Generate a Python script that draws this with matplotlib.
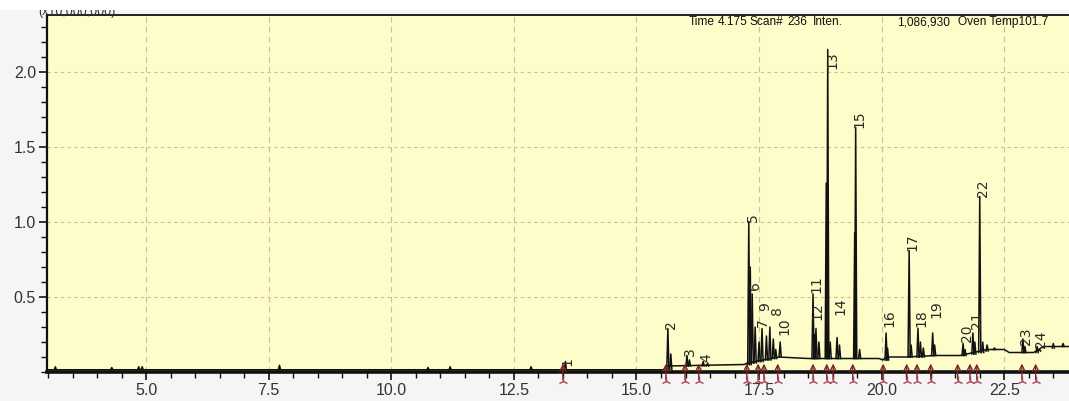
import matplotlib
matplotlib.use("Agg")
import matplotlib.pyplot as plt
from matplotlib.patches import Rectangle
from matplotlib.ticker import MultipleLocator, FixedLocator

# trace baseline, retention time (min) vs intensity (x10,000,000)
base_t = [2.98, 15.55, 15.62, 17.20, 17.26, 17.90, 18.50, 19.55, 19.95, 20.02,
          20.10, 20.50, 21.10, 21.60, 22.15, 22.50, 22.60, 23.10, 23.30, 23.82]
base_y = [0.015, 0.015, 0.040, 0.050, 0.060, 0.100, 0.090, 0.090, 0.090, 0.080,
          0.100, 0.100, 0.110, 0.110, 0.150, 0.150, 0.130, 0.130, 0.170, 0.170]

# labelled peaks
peak_no = [str(i) for i in range(1, 25)]
peak_t = [13.55, 15.64, 16.03, 16.36, 17.29, 17.36, 17.56, 17.72, 17.79, 17.93,
          18.60, 18.66, 18.90, 19.09, 19.47, 20.09, 20.56, 20.74, 21.04, 21.66,
          21.86, 22.00, 22.88, 23.17]
peak_h = [0.07, 0.29, 0.11, 0.07, 1.00, 0.52, 0.29, 0.30, 0.22, 0.20,
          0.52, 0.29, 2.15, 0.23, 1.63, 0.26, 0.81, 0.29, 0.26, 0.19,
          0.26, 1.17, 0.22, 0.17]
peak_base = [0.015, 0.015, 0.04, 0.04, 0.05, 0.06, 0.07, 0.08, 0.09, 0.10,
             0.09, 0.09, 0.09, 0.09, 0.09, 0.08, 0.10, 0.10, 0.11, 0.11,
             0.12, 0.13, 0.13, 0.13]
label_x = [13.60, 15.71, 16.10, 16.43, 17.38, 17.42, 17.58, 17.87, 17.63, 18.02,
           18.67, 18.69, 18.99, 19.16, 19.54, 20.16, 20.63, 20.81, 21.12, 21.73,
           21.95, 22.07, 22.95, 23.24]
label_y = [0.04, 0.29, 0.11, 0.07, 1.00, 0.55, 0.30, 0.38, 0.41, 0.25,
           0.53, 0.35, 2.02, 0.38, 1.63, 0.30, 0.81, 0.30, 0.36, 0.20,
           0.29, 1.17, 0.18, 0.16]

# small unlabelled peaks and shoulders
minor_t = [3.15, 4.30, 4.85, 4.92, 7.72, 10.75, 11.20, 12.85, 15.70, 16.08,
           16.45, 17.32, 17.42, 17.50, 17.65, 17.84, 18.63, 18.72, 18.87, 18.95,
           19.14, 19.45, 19.55, 20.12, 20.60, 20.79, 20.85, 21.08, 21.70, 21.90,
           22.06, 22.15, 22.30, 22.92, 23.22, 23.50, 23.70]
minor_h = [0.035, 0.030, 0.035, 0.035, 0.045, 0.030, 0.035, 0.035, 0.12, 0.08,
           0.06, 0.70, 0.30, 0.20, 0.24, 0.15, 0.25, 0.20, 1.26, 0.20,
           0.18, 0.93, 0.15, 0.16, 0.18, 0.20, 0.16, 0.18, 0.15, 0.20,
           0.20, 0.18, 0.16, 0.17, 0.15, 0.19, 0.19]
minor_base = [0.015, 0.015, 0.015, 0.015, 0.015, 0.015, 0.015, 0.015, 0.015, 0.04,
              0.04, 0.05, 0.06, 0.07, 0.08, 0.09, 0.09, 0.09, 0.09, 0.09,
              0.09, 0.09, 0.09, 0.08, 0.10, 0.10, 0.10, 0.11, 0.11, 0.12,
              0.13, 0.14, 0.15, 0.13, 0.14, 0.16, 0.17]

# integration start markers
marker_t = [13.50, 15.60, 15.99, 16.27, 17.25, 17.48, 17.60, 17.88, 18.60, 18.88,
            19.01, 19.41, 20.03, 20.51, 20.72, 21.00, 21.55, 21.80, 21.94, 22.86,
            23.14]

# status line: (x position, text, alignment)
header = [(16.07, "Time", "left"), (16.66, "4.175", "left"), (17.30, "Scan#", "left"),
          (18.07, "236", "left"), (18.60, "Inten.", "left"),
          (21.39, "1,086,930", "right"), (21.55, "Oven Temp101.7", "left")]

xticks = [5.0, 7.5, 10.0, 12.5, 15.0, 17.5, 20.0, 22.5]
yticks = [0.5, 1.0, 1.5, 2.0]

fig = plt.figure(figsize=(10.69, 4.01), dpi=100, facecolor="#f5f5f5")
ax = fig.add_axes([0.044, 0.0723, 0.956, 0.8903])
ax.set_facecolor("#fefcc8")
ax.set_xlim(2.98, 23.82)
ax.set_ylim(0, 2.38)

trace_kw = dict(color="#111111", lw=1.1, zorder=3)
ax.plot(base_t, base_y, **trace_kw)
w = 0.022
for t, h, b in zip(minor_t + peak_t, minor_h + peak_h, minor_base + peak_base):
    ax.plot([t - w, t, t + w], [b, h, b], **trace_kw)

for n, x, y in zip(peak_no, label_x, label_y):
    ax.text(x, y, n, rotation=90, ha="center", va="bottom",
            fontsize=10, color="#2a2a2a", zorder=4)

for t in marker_t:
    ax.annotate("", xy=(t, 0.075), xytext=(t, -0.07), annotation_clip=False,
                arrowprops=dict(arrowstyle="->,head_length=0.45,head_width=0.22",
                                color="#7b2428", lw=1.0), zorder=5)
ax.plot(marker_t, [-0.06] * len(marker_t), linestyle="none", marker="2",
        markersize=7, mew=1.0, color="#a8464e", clip_on=False, zorder=5)

for x, s, ha in header:
    ax.text(x, 2.333, s, ha=ha, va="center", fontsize=8.6,
            family="Liberation Sans", color="#111111", zorder=4)

# top strip of the screenshot cuts the scale factor label
fig.text(38 / 1069, 1 - 15 / 401, "(x10,000,000)", ha="left", va="baseline",
         fontsize=9, family="Liberation Sans", color="#333333")
fig.add_artist(Rectangle((0, 1 - 10 / 401), 1, 10 / 401, transform=fig.transFigure,
                         facecolor="white", edgecolor="none", zorder=10))

ax.xaxis.set_major_locator(FixedLocator(xticks))
ax.xaxis.set_minor_locator(MultipleLocator(0.5))
ax.yaxis.set_major_locator(FixedLocator(yticks))
ax.yaxis.set_minor_locator(MultipleLocator(0.1))
ax.set_xticklabels([f"{v:.1f}" for v in xticks], family="Liberation Sans")
ax.set_yticklabels([f"{v:.1f}" for v in yticks], family="Liberation Sans")
ax.tick_params(which="major", length=6, width=1.2, color="#111111",
               labelsize=11.5, labelcolor="#333333", pad=2)
ax.tick_params(which="minor", length=4, width=1.0, color="#111111")

ax.xaxis.grid(True, which="major", color="#c9bfa0", lw=0.8, linestyle=(0, (5, 4)))
ax.yaxis.grid(True, which="major", color="#c9bfa0", lw=0.8, linestyle=(0, (3, 3)))
ax.set_axisbelow(True)

ax.spines["right"].set_visible(False)
ax.spines["left"].set_linewidth(1.6)
ax.spines["bottom"].set_linewidth(2.6)
ax.spines["top"].set_linewidth(1.3)
for s in ax.spines.values():
    s.set_color("#111111")

fig.savefig("out.png", dpi=100, facecolor=fig.get_facecolor())
